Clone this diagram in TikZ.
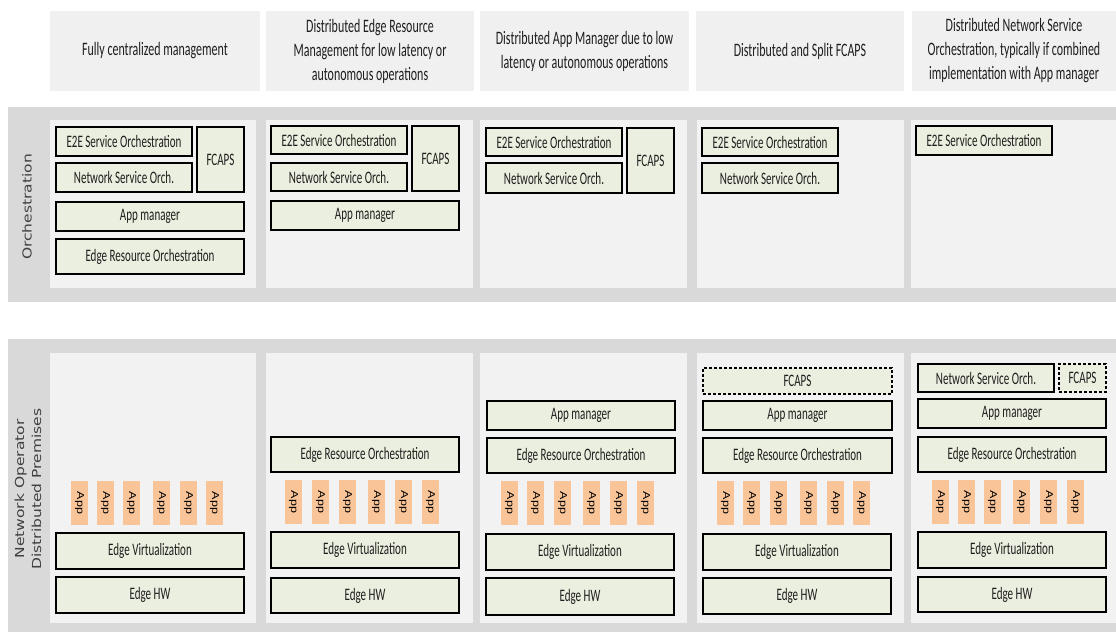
\documentclass[tikz,border=0pt]{standalone}
\usepackage{fontspec}
\setmainfont{Carlito}
\newfontfamily\boxfont[FakeStretch=0.63]{Carlito}
\newfontfamily\sidefont{DejaVu Sans}
\newfontfamily\appfont{Liberation Sans}
\definecolor{bandgray}{RGB}{217,217,217}
\definecolor{panelgray}{RGB}{242,242,242}
\definecolor{headgray}{RGB}{240,240,240}
\definecolor{blkfill}{RGB}{235,239,223}
\definecolor{appfill}{RGB}{248,196,152}
\definecolor{sidetext}{RGB}{64,64,64}
\definecolor{bodytext}{RGB}{30,30,30}

\tikzset{
  blk/.style={draw=black, line width=1.8pt, fill=blkfill, inner sep=0pt, outer sep=0pt,
              font=\boxfont\fontsize{17.5}{20}\selectfont, text=bodytext},
  dashedblk/.style={blk, dash pattern=on 3pt off 2pt},
  appbox/.style={fill=appfill, draw=none, inner sep=0pt, minimum width=17, minimum height=44,
                 font=\appfont\fontsize{12.5}{14}\selectfont},
  headbox/.style={fill=headgray, draw=none, inner sep=0pt, align=center, text=bodytext,
                  font=\boxfont\fontsize{19}{24}\selectfont},
  sidelabel/.style={rotate=90, align=center, text=sidetext,
                  font=\sidefont\fontsize{15.5}{17}\selectfont}
}

% box from corner (x1,y1) to (x2,y2): [style]{name}{x1}{y1}{x2}{y2}{text}
\newcommand\blkbox[7][blk]{%
  \node[#1, minimum width={#5-#3}, minimum height={#6-#4}] (#2)
    at ({(#3+#5)/2},{(#4+#6)/2}) {#7};}
% header box
\newcommand\headnode[6]{%
  \node[headbox, minimum width={#4-#2}, minimum height={#5-#3}] (#1)
    at ({(#2+#4)/2},{(#3+#5)/2}) {#6};}
% a row of six application boxes: {prefix}{top y}{x list}
\newcommand\approw[3]{%
  \foreach \ax [count=\k] in {#3} {
    \node[appbox] (#1\k) at ({\ax+8.5},{#2+22}) {\rotatebox{-90}{\scalebox{1}[0.8]{App}}};
  }}

\begin{document}
\begin{tikzpicture}[x=1pt,y=-1pt]
\useasboundingbox (0,0) rectangle (1116,632);

% headers
\headnode{h1}{50}{11}{260}{91}{Fully centralized management}
\headnode{h2}{266}{11}{474}{91}{Distributed Edge Resource\\Management for low latency or\\autonomous operations}
\headnode{h3}{480}{11}{689}{91}{Distributed App Manager due to low\\latency or autonomous operations}
\headnode{h4}{696}{11}{904}{91}{Distributed and Split FCAPS}
\headnode{h5}{912}{11}{1116}{91}{Distributed Network Service\\Orchestration, typically if combined\\implementation with App manager}

% bands and column panels
\fill[bandgray] (8,107) rectangle (1116,302);
\fill[bandgray] (8,339) rectangle (1116,632);
\foreach \xa/\xb in {50/256, 266/473, 480/687, 697/904, 911/1116} {
  \fill[panelgray] (\xa,120) rectangle (\xb,288);
  \fill[panelgray] (\xa,353) rectangle (\xb,623);
}

% side labels
\node[sidelabel] (orch) at (27,207) {\scalebox{1}[0.8]{Orchestration}};
\node[sidelabel] (prem) at (28,489) {\scalebox{1}[0.8]{Network Operator}\\\scalebox{1}[0.8]{Distributed Premises}};

% orchestration, column 1
\blkbox{o1e2e}{56}{127}{192}{156}{E2E Service Orchestration}
\blkbox{o1nso}{56}{163}{192}{192}{Network Service Orch.}
\blkbox{o1fc}{197}{127}{244}{192}{FCAPS}
\blkbox{o1am}{56}{202}{244}{231}{App manager}
\blkbox{o1ero}{56}{239}{244}{274}{Edge Resource Orchestration}
% orchestration, column 2
\blkbox{o2e2e}{271}{126}{407}{154}{E2E Service Orchestration}
\blkbox{o2nso}{271}{163}{407}{191}{Network Service Orch.}
\blkbox{o2fc}{412}{126}{459}{191}{FCAPS}
\blkbox{o2am}{271}{201}{459}{230}{App manager}
% orchestration, column 3
\blkbox{o3e2e}{486}{128}{622}{156}{E2E Service Orchestration}
\blkbox{o3nso}{486}{163}{622}{193}{Network Service Orch.}
\blkbox{o3fc}{627}{128}{674}{193}{FCAPS}
% orchestration, column 4
\blkbox{o4e2e}{702}{128}{838}{156}{E2E Service Orchestration}
\blkbox{o4nso}{702}{163}{838}{193}{Network Service Orch.}
% orchestration, column 5
\blkbox{o5e2e}{916}{126}{1052}{155}{E2E Service Orchestration}

% premises, column 1
\approw{p1app}{481}{71,97,123,153,180,206}
\blkbox{p1ev}{56}{533}{244}{569}{Edge Virtualization}
\blkbox{p1hw}{56}{577}{244}{613}{Edge HW}
% premises, column 2
\blkbox{p2ero}{271}{437}{459}{472}{Edge Resource Orchestration}
\approw{p2app}{480}{285,312,339,368,395,422}
\blkbox{p2ev}{271}{532}{459}{568}{Edge Virtualization}
\blkbox{p2hw}{271}{578}{459}{613}{Edge HW}
% premises, column 3
\blkbox{p3am}{487}{401}{675}{430}{App manager}
\blkbox{p3ero}{487}{438}{675}{473}{Edge Resource Orchestration}
\approw{p3app}{481}{501,527,554,583,610,637}
\blkbox{p3ev}{486}{534}{674}{570}{Edge Virtualization}
\blkbox{p3hw}{486}{578}{674}{615}{Edge HW}
% premises, column 4
\blkbox[dashedblk]{p4fc}{703}{368}{892}{394}{FCAPS}
\blkbox{p4am}{703}{401}{892}{430}{App manager}
\blkbox{p4ero}{703}{438}{892}{473}{Edge Resource Orchestration}
\approw{p4app}{481}{717,743,770,800,827,853}
\blkbox{p4ev}{703}{534}{891}{570}{Edge Virtualization}
\blkbox{p4hw}{703}{578}{891}{614}{Edge HW}
% premises, column 5
\blkbox{p5nso}{918}{364}{1054}{392}{Network Service Orch.}
\blkbox[dashedblk]{p5fc}{1059}{364}{1106}{392}{FCAPS}
\blkbox{p5am}{918}{399}{1106}{428}{App manager}
\blkbox{p5ero}{918}{437}{1106}{472}{Edge Resource Orchestration}
\approw{p5app}{480}{932,958,984,1013,1040,1067}
\blkbox{p5ev}{918}{532}{1106}{568}{Edge Virtualization}
\blkbox{p5hw}{918}{577}{1106}{612}{Edge HW}
\end{tikzpicture}
\end{document}
